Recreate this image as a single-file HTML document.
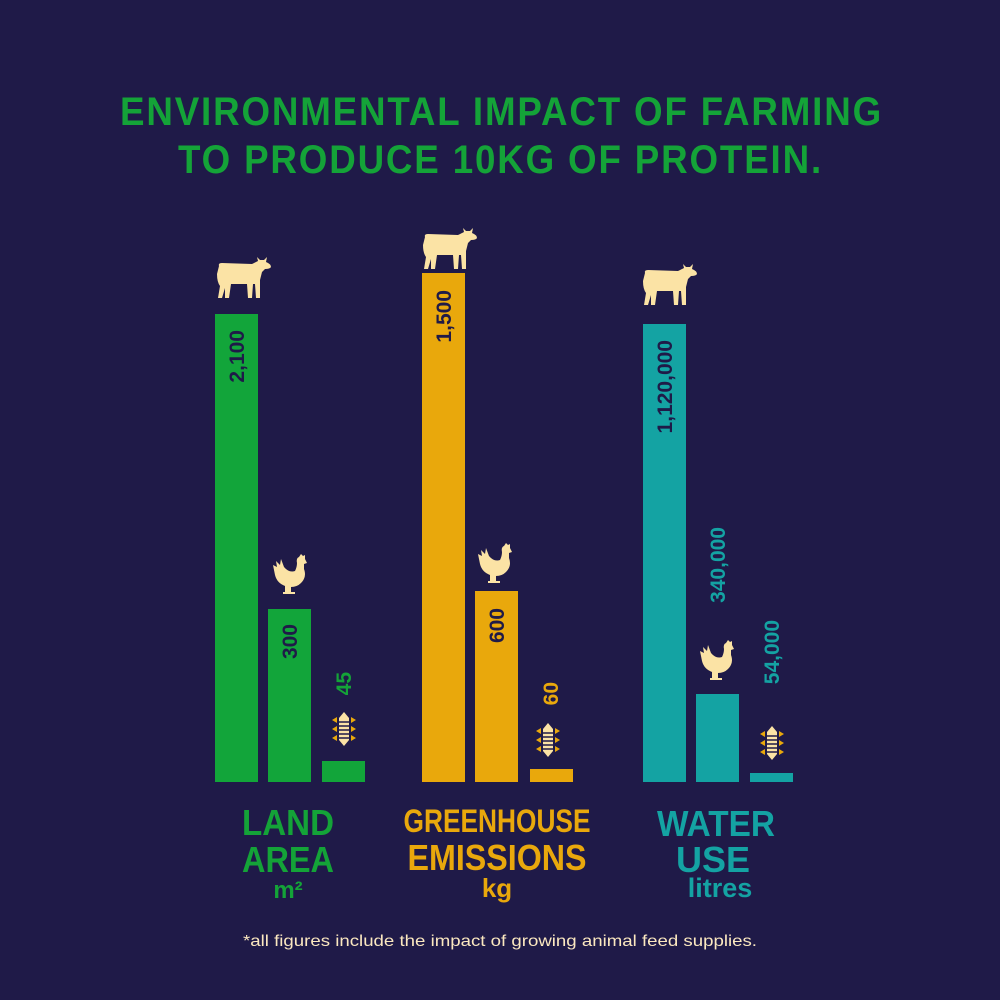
<!DOCTYPE html>
<html><head><meta charset="utf-8"><style>
html,body{margin:0;padding:0;background:#1f1a48;}
svg{display:block}
.t{font-family:"Liberation Sans",sans-serif;font-weight:bold}
</style></head><body>
<svg width="1000" height="1000" viewBox="0 0 1000 1000" xmlns="http://www.w3.org/2000/svg">
<defs>
<symbol id="cow" viewBox="0 0 56 42">
<path fill="#fbe3a5" d="M3 10 Q2 7 6 7 L36 8 Q40 6 42 5 L41 1 L44 4 L48 4 L51 1 L50 6 Q55 8 55 11 Q54 13 49 13 L46 16 L44 24 L44 42 L40 42 L39 28 L37 28 L36 42 L32 42 L31 28 L15 28 L13 42 L9 42 L9 32 L6 42 L2 42 L4 30 Q1 26 1 18 Z"/>
</symbol>
<symbol id="hen" viewBox="0 0 34 44">
<path fill="#fbe3a5" d="M26 4 L28 1 L30 3 L32 2 L32 6 L34 10 L31 11 L31 16 Q34 24 28 30 Q24 34 18 34 L18 39 L22 39 L22 41 L10 41 L10 39 L12 39 L12 33 Q4 30 2 22 L0 12 L4 14 L3 8 L7 12 L8 6 L11 14 Q16 20 22 18 Q24 14 24 10 Q23 5 26 4Z"/>
</symbol>
<symbol id="grain" viewBox="0 0 26 34">
<path fill="#fbe3a5" d="M13 0 L18 6 L18 28 L13 34 L8 28 L8 6 Z"/>
<path stroke="#1f1a48" stroke-width="1.5" d="M8 10H18M8 14H18M8 18H18M8 22H18M8 26H18"/>
<path fill="#e9a80c" d="M6 5 L1 8 L6 11Z M20 5 L25 8 L20 11Z M6 14 L1 17 L6 20Z M20 14 L25 17 L20 20Z M6 23 L1 26 L6 29Z M20 23 L25 26 L20 29Z"/>
</symbol>
</defs>
<rect width="1000" height="1000" fill="#1f1a48"/>
<g class="t" fill="#14a338" font-size="40" style="letter-spacing:2px">
<text x="120" y="125" textLength="763" lengthAdjust="spacingAndGlyphs">ENVIRONMENTAL IMPACT OF FARMING</text>
<text x="178" y="173" textLength="645" lengthAdjust="spacingAndGlyphs">TO PRODUCE 10KG OF PROTEIN.</text>
</g>
<g fill="#12a53a"><rect x="215" y="314" width="43" height="468"/><rect x="268" y="609" width="43" height="173"/><rect x="322" y="761" width="43" height="21"/></g>
<g fill="#e9a80c"><rect x="422" y="273" width="43" height="509"/><rect x="475" y="591" width="43" height="191"/><rect x="530" y="769" width="43" height="13"/></g>
<g fill="#14a3a3"><rect x="643" y="324" width="43" height="458"/><rect x="696" y="694" width="43" height="88"/><rect x="750" y="773" width="43" height="9"/></g>
<use href="#cow" x="216" y="256" width="56" height="42"/>
<use href="#cow" x="422" y="227" width="56" height="42"/>
<use href="#cow" x="642" y="263" width="56" height="42"/>
<use href="#hen" x="273" y="553" width="34" height="44"/>
<use href="#hen" x="478" y="542" width="34" height="44"/>
<use href="#hen" x="700" y="639" width="34" height="44"/>
<use href="#grain" x="331" y="712" width="26" height="34"/>
<use href="#grain" x="535" y="723" width="26" height="34"/>
<use href="#grain" x="759" y="726" width="26" height="34"/>
<g class="t" font-size="21" text-anchor="end">
<text fill="#1f1a48" transform="translate(244,330) rotate(-90)">2,100</text>
<text fill="#1f1a48" transform="translate(297,624) rotate(-90)">300</text>
<text fill="#14a338" transform="translate(351,672) rotate(-90)">45</text>
<text fill="#1f1a48" transform="translate(451,290) rotate(-90)">1,500</text>
<text fill="#1f1a48" transform="translate(504,608) rotate(-90)">600</text>
<text fill="#e9a80c" transform="translate(558,682) rotate(-90)">60</text>
<text fill="#1f1a48" transform="translate(672,340) rotate(-90)">1,120,000</text>
<text fill="#14a3a3" transform="translate(725,527) rotate(-90)">340,000</text>
<text fill="#14a3a3" transform="translate(779,620) rotate(-90)">54,000</text>
</g>
<g class="t" font-size="36" text-anchor="middle">
<text fill="#14a338" x="288" y="835" textLength="92" lengthAdjust="spacingAndGlyphs">LAND</text>
<text fill="#14a338" x="288" y="872" textLength="92" lengthAdjust="spacingAndGlyphs">AREA</text>
<text fill="#14a338" x="288" y="898" font-size="24">m²</text>
<text fill="#e9a80c" x="497" y="832" font-size="32" textLength="187" lengthAdjust="spacingAndGlyphs">GREENHOUSE</text>
<text fill="#e9a80c" x="497" y="870" textLength="179" lengthAdjust="spacingAndGlyphs">EMISSIONS</text>
<text fill="#e9a80c" x="497" y="897" font-size="26">kg</text>
<text fill="#14a3a3" x="716" y="836" textLength="118" lengthAdjust="spacingAndGlyphs">WATER</text>
<text fill="#14a3a3" x="713" y="872" textLength="74" lengthAdjust="spacingAndGlyphs">USE</text>
<text fill="#14a3a3" x="720" y="897" font-size="27">litres</text>
</g>
<text x="500" y="946" text-anchor="middle" fill="#fbe8c0" font-family="Liberation Sans, sans-serif" font-size="16" textLength="514" lengthAdjust="spacingAndGlyphs">*all figures include the impact of growing animal feed supplies.</text>
</svg>
</body></html>
